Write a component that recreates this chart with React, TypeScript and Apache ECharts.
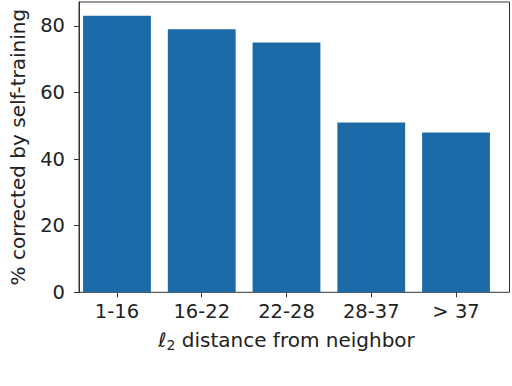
import React, { useEffect, useRef } from "react";
import * as echarts from "echarts";

const categories = ["1-16", "16-22", "22-28", "28-37", "> 37"];
const values = [83, 79, 75, 51, 48];
const yTicks = [0, 20, 40, 60, 80];
const yMax = 87.15;

export default function App() {
  const ref = useRef<HTMLDivElement>(null);
  useEffect(() => {
    if (!ref.current) return;
    const chart = echarts.init(ref.current, undefined, { renderer: "svg" });
    const font = "DejaVu Sans";
    const axisColor = "#333";
    const textColor = "#222";
    chart.setOption({
      animation: false,
      textStyle: { fontFamily: font },
      grid: [
        { left: 74.6, right: 13.6, top: 2, bottom: 93.7, show: false },
        {
          left: 62,
          right: 2.5,
          top: 2,
          bottom: 93.7,
          show: true,
          borderColor: axisColor,
          borderWidth: 1,
          backgroundColor: "transparent",
        },
      ],
      xAxis: [
        {
          type: "category",
          gridIndex: 0,
          data: categories,
          boundaryGap: true,
          axisLine: { show: false },
          axisTick: {
            show: true,
            alignWithLabel: true,
            length: 5,
            lineStyle: { color: axisColor },
          },
          axisLabel: {
            margin: 9,
            fontSize: 19.5,
            fontFamily: font,
            color: textColor,
          },
          name: "{l|ℓ}{sub|2} distance from neighbor",
          nameLocation: "middle",
          nameGap: 36,
          nameTextStyle: {
            fontSize: 20,
            fontFamily: font,
            color: textColor,
            rich: {
              l: { fontSize: 20, fontStyle: "italic", fontFamily: font, color: textColor },
              sub: {
                fontSize: 14,
                fontFamily: font,
                color: textColor,
                padding: [10, 0, 0, 0],
              },
            },
          },
        },
        {
          type: "value",
          gridIndex: 1,
          min: 0,
          max: 1,
          show: false,
        },
      ],
      yAxis: [
        {
          type: "value",
          gridIndex: 0,
          min: 0,
          max: yMax,
          show: false,
          splitLine: { show: false },
        },
        {
          type: "value",
          gridIndex: 1,
          min: 0,
          max: yMax,
          splitLine: { show: false },
          axisLine: { show: true, onZero: false, lineStyle: { color: axisColor } },
          axisTick: {
            show: true,
            length: 5,
            customValues: yTicks,
            lineStyle: { color: axisColor },
          },
          axisLabel: {
            customValues: yTicks,
            margin: 14,
            fontSize: 19.5,
            fontFamily: font,
            color: textColor,
          },
          name: "% corrected by self-training",
          nameLocation: "middle",
          nameRotate: 90,
          nameGap: 51,
          nameTextStyle: { fontSize: 20, fontFamily: font, color: textColor },
        },
      ],
      series: [
        {
          type: "bar",
          xAxisIndex: 0,
          yAxisIndex: 0,
          data: values,
          barWidth: "80%",
          itemStyle: { color: "#1d6aa8" },
        },
      ],
    });
    return () => chart.dispose();
  }, []);
  return <div ref={ref} style={{ width: 512, height: 386, position: "absolute", left: 0, top: 0 }} />;
}
